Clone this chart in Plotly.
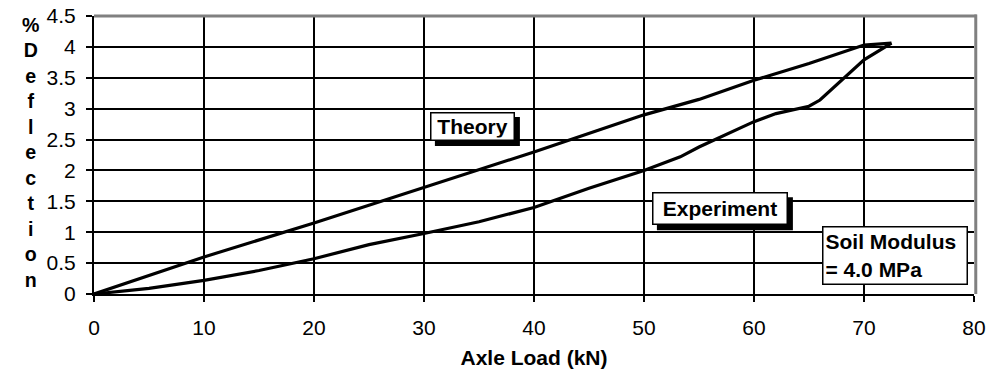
import plotly.graph_objects as go

# ---- data ----
theory_x = [0, 10, 20, 30, 40, 50, 55, 60, 65, 70, 72.5]
theory_y = [0, 0.60, 1.15, 1.73, 2.30, 2.90, 3.15, 3.46, 3.73, 4.03, 4.06]

exp_x = [0, 5, 10, 12.5, 15, 20, 25, 30, 35, 40, 45, 50, 53.3, 55, 60, 62, 64, 65, 66, 67, 68, 70, 72.5]
exp_y = [0, 0.09, 0.22, 0.30, 0.38, 0.57, 0.80, 0.98, 1.17, 1.40, 1.71, 2.00, 2.22, 2.38, 2.79, 2.92, 3.00, 3.04, 3.14, 3.30, 3.47, 3.79, 4.06]

x_ticks = [0, 10, 20, 30, 40, 50, 60, 70, 80]
y_ticks = [0, 0.5, 1, 1.5, 2, 2.5, 3, 3.5, 4, 4.5]
y_tick_labels = ["0", "0.5", "1", "1.5", "2", "2.5", "3", "3.5", "4", "4.5"]

x_title = "Axle Load (kN)"
y_title = "% Deflection"
label_theory = "Theory"
label_experiment = "Experiment"
label_soil = "Soil Modulus<br>= 4.0 MPa"

FONT = "Liberation Sans, Arial, sans-serif"

fig = go.Figure()
fig.add_trace(go.Scatter(x=theory_x, y=theory_y, mode="lines",
                         line=dict(color="black", width=3.2), name="Theory"))
fig.add_trace(go.Scatter(x=exp_x, y=exp_y, mode="lines",
                         line=dict(color="black", width=3.2), name="Experiment"))

annotations = []
shapes = []

def boxed(text, x, y, w, h, shadow=True, align="center"):
    # box outer size = w + 2*pad + 2*border
    pad, bw = 2, 1.5
    ow = w + 2 * pad + 2 * bw
    oh = h + 2 * pad + 2 * bw
    if shadow:
        shapes.append(dict(type="rect", xref="x", yref="y",
                           xsizemode="pixel", ysizemode="pixel",
                           xanchor=x, yanchor=y,
                           x0=-ow / 2 + 5, x1=ow / 2 + 5,
                           y0=-oh / 2 - 5, y1=oh / 2 - 5,
                           fillcolor="black", line=dict(width=0), layer="above"))
    annotations.append(dict(x=x, y=y, xref="x", yref="y", showarrow=False, text=text,
                            width=w, height=h, align=align, valign="middle",
                            borderpad=pad, borderwidth=bw,
                            bgcolor="white", bordercolor="black",
                            font=dict(family=FONT, size=21, color="black")))

boxed("<b>" + label_theory + "</b>", 34.4, 2.71, 78, 22)
boxed("<b>" + label_experiment + "</b>", 56.9, 1.38, 129, 26)
boxed("<b>" + label_soil + "</b>", 72.8, 0.62, 139, 52, shadow=False, align="left")

annotations.append(dict(
    x=-0.084, y=0.508, xref="paper", yref="paper", showarrow=False,
    text="<b>" + "<br>".join(list(y_title.replace(" ", ""))) + "</b>",
    font=dict(family=FONT, size=19.6, color="black"), align="center"))

shapes += [
    dict(type="line", xref="paper", yref="paper", x0=0, x1=1.003, y0=1, y1=1,
         line=dict(color="#808080", width=3), layer="above"),
    dict(type="line", xref="paper", yref="paper", x0=1.002, x1=1.002, y0=1.005, y1=0,
         line=dict(color="#808080", width=3), layer="above"),
]

fig.update_layout(
    width=990, height=372,
    margin=dict(l=94, r=16, t=16, b=78),
    paper_bgcolor="white", plot_bgcolor="white",
    showlegend=False,
    font=dict(family=FONT, size=21, color="black"),
    annotations=annotations,
    shapes=shapes,
    xaxis=dict(range=[0, 80], tickvals=x_ticks, ticktext=[str(v) for v in x_ticks],
               showgrid=True, gridcolor="black", gridwidth=2,
               showline=True, linecolor="black", linewidth=2,
               ticks="outside", ticklen=6, tickwidth=2, tickcolor="black",
               ticklabelstandoff=8, zeroline=False, automargin=False,
               tickfont=dict(family=FONT, size=21),
               title=dict(text="<b>" + x_title + "</b>", standoff=12,
                          font=dict(family=FONT, size=21))),
    yaxis=dict(range=[0, 4.5], tickvals=y_ticks, ticktext=y_tick_labels,
               showgrid=True, gridcolor="black", gridwidth=2,
               showline=True, linecolor="black", linewidth=2,
               ticks="outside", ticklen=6, tickwidth=2, tickcolor="black",
               ticklabelstandoff=6, zeroline=False, automargin=False,
               tickfont=dict(family=FONT, size=21)),
)

fig.write_html("out.html", config={"displayModeBar": False},
               post_script="document.body.style.margin='0';document.body.style.overflow='hidden';")
